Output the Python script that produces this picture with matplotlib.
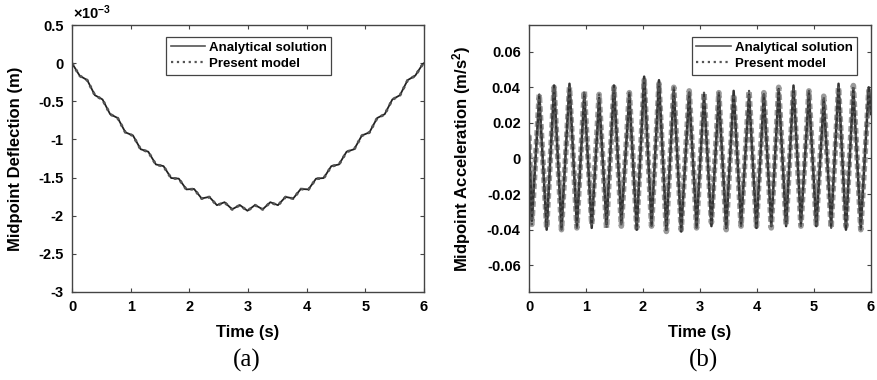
import numpy as np
import matplotlib
matplotlib.use('Agg')
import matplotlib.pyplot as plt

plt.rcParams['font.family'] = ['Liberation Sans', 'DejaVu Sans']
plt.rcParams['axes.unicode_minus'] = False
plt.rcParams['mathtext.fontset'] = 'custom'
plt.rcParams['mathtext.rm'] = 'Liberation Sans'
plt.rcParams['mathtext.bf'] = 'Liberation Sans:bold'

# (a) midpoint deflection, x10^-3 m, sampled every 0.13 s (last point at 6 s)
defl_time = np.append(np.arange(47) * 0.13, 6.0)
defl_analytical = [0.000, -0.164, -0.223, -0.420, -0.476, -0.669, -0.720, -0.907,
                   -0.949, -1.128, -1.161, -1.328, -1.350, -1.506, -1.514, -1.655,
                   -1.649, -1.774, -1.753, -1.862, -1.823, -1.916, -1.860, -1.935,
                   -1.860, -1.916, -1.823, -1.862, -1.753, -1.774, -1.649, -1.655,
                   -1.514, -1.506, -1.350, -1.328, -1.161, -1.128, -0.949, -0.907,
                   -0.720, -0.669, -0.476, -0.420, -0.223, -0.164, -0.010, 0.000]
defl_model = [0.000, -0.166, -0.224, -0.421, -0.478, -0.670, -0.722, -0.908,
              -0.951, -1.130, -1.162, -1.330, -1.352, -1.508, -1.516, -1.657,
              -1.651, -1.776, -1.755, -1.864, -1.825, -1.918, -1.862, -1.937,
              -1.862, -1.918, -1.825, -1.864, -1.755, -1.776, -1.651, -1.657,
              -1.516, -1.508, -1.352, -1.330, -1.163, -1.130, -0.951, -0.909,
              -0.722, -0.671, -0.478, -0.422, -0.225, -0.166, -0.011, 0.000]

# (b) midpoint acceleration, m/s^2: troughs and peaks of each cycle
trough_time = [0.05, 0.31, 0.57, 0.84, 1.10, 1.36, 1.62, 1.89, 2.15, 2.41, 2.67, 2.94,
               3.20, 3.46, 3.72, 3.99, 4.25, 4.51, 4.77, 5.04, 5.30, 5.56, 5.82]
peak_time = [0.18, 0.44, 0.71, 0.97, 1.23, 1.49, 1.76, 2.02, 2.28, 2.54, 2.81, 3.07,
             3.33, 3.59, 3.86, 4.12, 4.38, 4.64, 4.91, 5.17, 5.43, 5.69, 5.96]
trough_analytical = [-0.035, -0.040, -0.039, -0.038, -0.039, -0.037, -0.036, -0.040,
                     -0.037, -0.040, -0.041, -0.038, -0.038, -0.039, -0.037, -0.039,
                     -0.038, -0.038, -0.037, -0.038, -0.038, -0.040, -0.039]
peak_analytical = [0.035, 0.041, 0.042, 0.036, 0.034, 0.041, 0.036, 0.046, 0.044, 0.039,
                   0.037, 0.036, 0.036, 0.038, 0.036, 0.036, 0.039, 0.041, 0.037, 0.033,
                   0.042, 0.039, 0.040]
trough_model = [-0.037, -0.039, -0.040, -0.039, -0.037, -0.039, -0.038, -0.039,
                -0.038, -0.041, -0.040, -0.039, -0.036, -0.040, -0.038, -0.038,
                -0.039, -0.037, -0.038, -0.037, -0.039, -0.038, -0.040]
peak_model = [0.036, 0.040, 0.040, 0.038, 0.036, 0.040, 0.037, 0.044, 0.042, 0.040,
              0.038, 0.037, 0.037, 0.036, 0.038, 0.037, 0.040, 0.039, 0.038, 0.035,
              0.040, 0.041, 0.038]
acc_start = 0.013
acc_end = 0.025


def zigzag(troughs, peaks):
    t = [0.0]
    v = [acc_start]
    for tt, tv, pt, pv in zip(trough_time, troughs, peak_time, peaks):
        t += [tt, pt]
        v += [tv, pv]
    t.append(6.0)
    v.append(acc_end)
    return np.array(t), np.array(v)


fig = plt.figure(figsize=(8.77, 3.8), dpi=100)
ax1 = fig.add_axes([0.0821, 0.2316, 0.4014, 0.7026])
ax2 = fig.add_axes([0.6032, 0.2316, 0.3900, 0.7026])

tick_font = dict(fontsize=10.5, fontweight='bold')

# panel (a)
ax1.plot(defl_time, defl_analytical, '-', color='#222222', lw=1.3, label='Analytical solution')
ax1.plot(defl_time, defl_model, ':', color='#555555', lw=2.0, label='Present model')
ax1.set_xlim(0, 6)
ax1.set_ylim(-3, 0.5)
ax1.set_yticks(np.arange(-3, 0.51, 0.5))
ax1.set_yticklabels([f'{v:g}' for v in np.arange(-3, 0.51, 0.5)], **tick_font)
ax1.text(0.003, 1.01, r'$\mathbf{\times 10^{-3}}$', transform=ax1.transAxes,
         fontsize=10.5, ha='left', va='bottom')
ax1.set_ylabel('Midpoint Deflection (m)', fontsize=12, fontweight='bold')
ax1.yaxis.set_label_coords(-0.14, 0.5)

# panel (b)
t_an, a_an = zigzag(trough_analytical, peak_analytical)
t_md, a_md = zigzag(trough_model, peak_model)
ax2.plot(t_md, a_md, linestyle=(0, (1, 0.6)), color='#9a9a9a', lw=4.0, label='_nolegend_')
ax2.plot(t_an, a_an, '-', color='#333333', lw=1.8, label='Analytical solution')
ax2.plot(t_md, a_md, ':', color='#555555', lw=1.6, label='Present model')
ax2.set_xlim(0, 6)
ax2.set_ylim(-0.075, 0.075)
yt = [-0.06, -0.04, -0.02, 0, 0.02, 0.04, 0.06]
ax2.set_yticks(yt)
ax2.set_yticklabels([f'{v:g}' for v in yt], **tick_font)
ax2.set_ylabel(r'Midpoint Acceleration (m/s$\mathbf{^2}$)', fontsize=12, fontweight='bold')
ax2.yaxis.set_label_coords(-0.165, 0.5)

for ax, lx in ((ax1, 0.267), (ax2, 0.476)):
    ax.set_xticks(range(7))
    ax.set_xticklabels([str(i) for i in range(7)], **tick_font)
    ax.set_xlabel('Time (s)', fontsize=12, fontweight='bold')
    ax.xaxis.set_label_coords(0.5, -0.122)
    ax.tick_params(direction='in', length=3, width=0.8, top=True, right=True,
                   colors='#444444', labelcolor='black', pad=6)
    for sp in ax.spines.values():
        sp.set_color('#444444')
        sp.set_linewidth(1.0)
    leg = ax.legend(loc='upper left', bbox_to_anchor=(lx, 0.955), borderaxespad=0,
                    fancybox=False, edgecolor='#444444', framealpha=1,
                    prop=dict(size=9.5, weight='bold'), handlelength=2.6,
                    handletextpad=0.3, labelspacing=0.3, borderpad=0.35)
    leg.get_frame().set_linewidth(0.9)
    leg.get_lines()[0].set_linewidth(1.2)
    leg.get_lines()[0].set_color('#555555')
    leg.get_lines()[1].set_linewidth(1.6)

fig.text(247 / 877, 1 - 360 / 380, '(a)', family='Liberation Serif', fontsize=18,
         ha='center', va='center')
fig.text(703 / 877, 1 - 360 / 380, '(b)', family='Liberation Serif', fontsize=18,
         ha='center', va='center')

fig.savefig('out.png', dpi=100, facecolor='white')
